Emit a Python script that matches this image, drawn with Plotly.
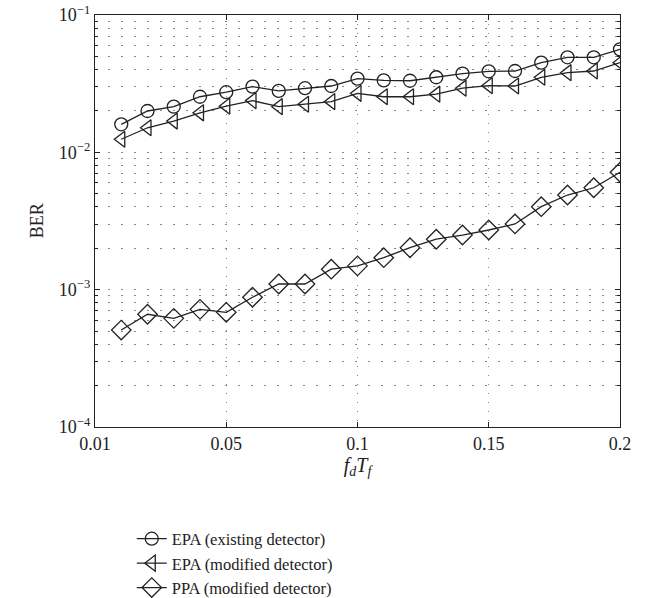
import plotly.graph_objects as go

fdTf = [0.01, 0.02, 0.03, 0.04, 0.05, 0.06, 0.07, 0.08, 0.09, 0.10,
        0.11, 0.12, 0.13, 0.14, 0.15, 0.16, 0.17, 0.18, 0.19, 0.20]

epa_existing = [0.0160, 0.0200, 0.0215, 0.0254, 0.0274, 0.0301, 0.0280, 0.0293, 0.0304, 0.0344,
                0.0334, 0.0332, 0.0352, 0.0374, 0.0389, 0.0391, 0.0450, 0.0492, 0.0492, 0.0562]

epa_modified = [0.01245, 0.0151, 0.0169, 0.0194, 0.0217, 0.0238, 0.0215, 0.0224, 0.0234, 0.0269,
                0.0254, 0.0254, 0.0265, 0.0293, 0.0306, 0.0304, 0.0352, 0.0380, 0.0391, 0.0450]

ppa_modified = [0.000508, 0.000662, 0.000618, 0.000719, 0.000684, 0.000880, 0.00110, 0.00110, 0.00141, 0.00149,
                0.00171, 0.00202, 0.00233, 0.00250, 0.00272, 0.00301, 0.00402, 0.00489, 0.00552, 0.00716]

series_names = ["EPA (existing detector)", "EPA (modified detector)", "PPA (modified detector)"]

x_tickvals = [0.0, 0.05, 0.1, 0.15, 0.2]
x_ticktext = ["0.01", "0.05", "0.1", "0.15", "0.2"]
y_tickvals = [1e-4, 1e-3, 1e-2, 1e-1]
y_ticktext = ["10<sup>−4</sup>", "10<sup>−3</sup>", "10<sup>−2</sup>", "10<sup>−1</sup>"]

FONT = "Liberation Serif, Times New Roman, DejaVu Serif, serif"
INK = "#222222"

fig = go.Figure()
symbols = ["circle-open", "triangle-left-open", "diamond-open"]
sizes = [13, 14, 15]
for name, ys, sym, sz in zip(series_names, [epa_existing, epa_modified, ppa_modified], symbols, sizes):
    fig.add_trace(go.Scatter(
        x=fdTf, y=ys, name=name, mode="lines+markers",
        line=dict(color=INK, width=1.3),
        marker=dict(symbol=sym, size=sz, color=INK, line=dict(width=1.3, color=INK)),
    ))

grid_col = "#888888"
tickfont = dict(family=FONT, size=18, color=INK)
fig.update_layout(
    width=650, height=598,
    margin=dict(l=95, r=30, t=15, b=171, autoexpand=False),
    paper_bgcolor="white", plot_bgcolor="white",
    font=dict(family=FONT, size=18, color=INK),
    showlegend=True,
    legend=dict(xref="container", yref="container", x=0.2027, y=0.128,
                xanchor="left", yanchor="top",
                font=dict(family=FONT, size=16.5, color=INK),
                bgcolor="rgba(0,0,0,0)", tracegroupgap=0),
    xaxis=dict(
        range=[0, 0.2], tickmode="array", tickvals=x_tickvals, ticktext=x_ticktext,
        tickfont=tickfont, automargin=True,
        showline=True, linecolor=INK, linewidth=1.3, mirror="allticks",
        ticks="inside", ticklen=5, tickcolor=INK,
        showgrid=True, gridcolor=grid_col, gridwidth=1, griddash="1px,8px",
        zeroline=False,
        title=dict(text="<i>f<sub>d</sub>T<sub>f</sub></i>", font=dict(family=FONT, size=20), standoff=4),
    ),
    yaxis=dict(
        type="log", range=[-4, -1], tickmode="array", tickvals=y_tickvals, ticktext=y_ticktext,
        tickfont=tickfont, automargin=True,
        showline=True, linecolor=INK, linewidth=1.3, mirror="allticks",
        ticks="inside", ticklen=5, tickcolor=INK,
        showgrid=True, gridcolor=grid_col, gridwidth=1, griddash="2px,11px",
        zeroline=False,
        minor=dict(showgrid=True, gridcolor=grid_col, gridwidth=1, griddash="2px,11px",
                   ticks="inside", ticklen=3, tickcolor=INK, dtick="D1"),
    ),
    annotations=[dict(text="BER", xref="paper", yref="paper", x=-0.11, y=0.5,
                      xanchor="center", yanchor="middle", textangle=-90, showarrow=False,
                      font=dict(family=FONT, size=18, color=INK))],
)

fig.write_html("out.html")
